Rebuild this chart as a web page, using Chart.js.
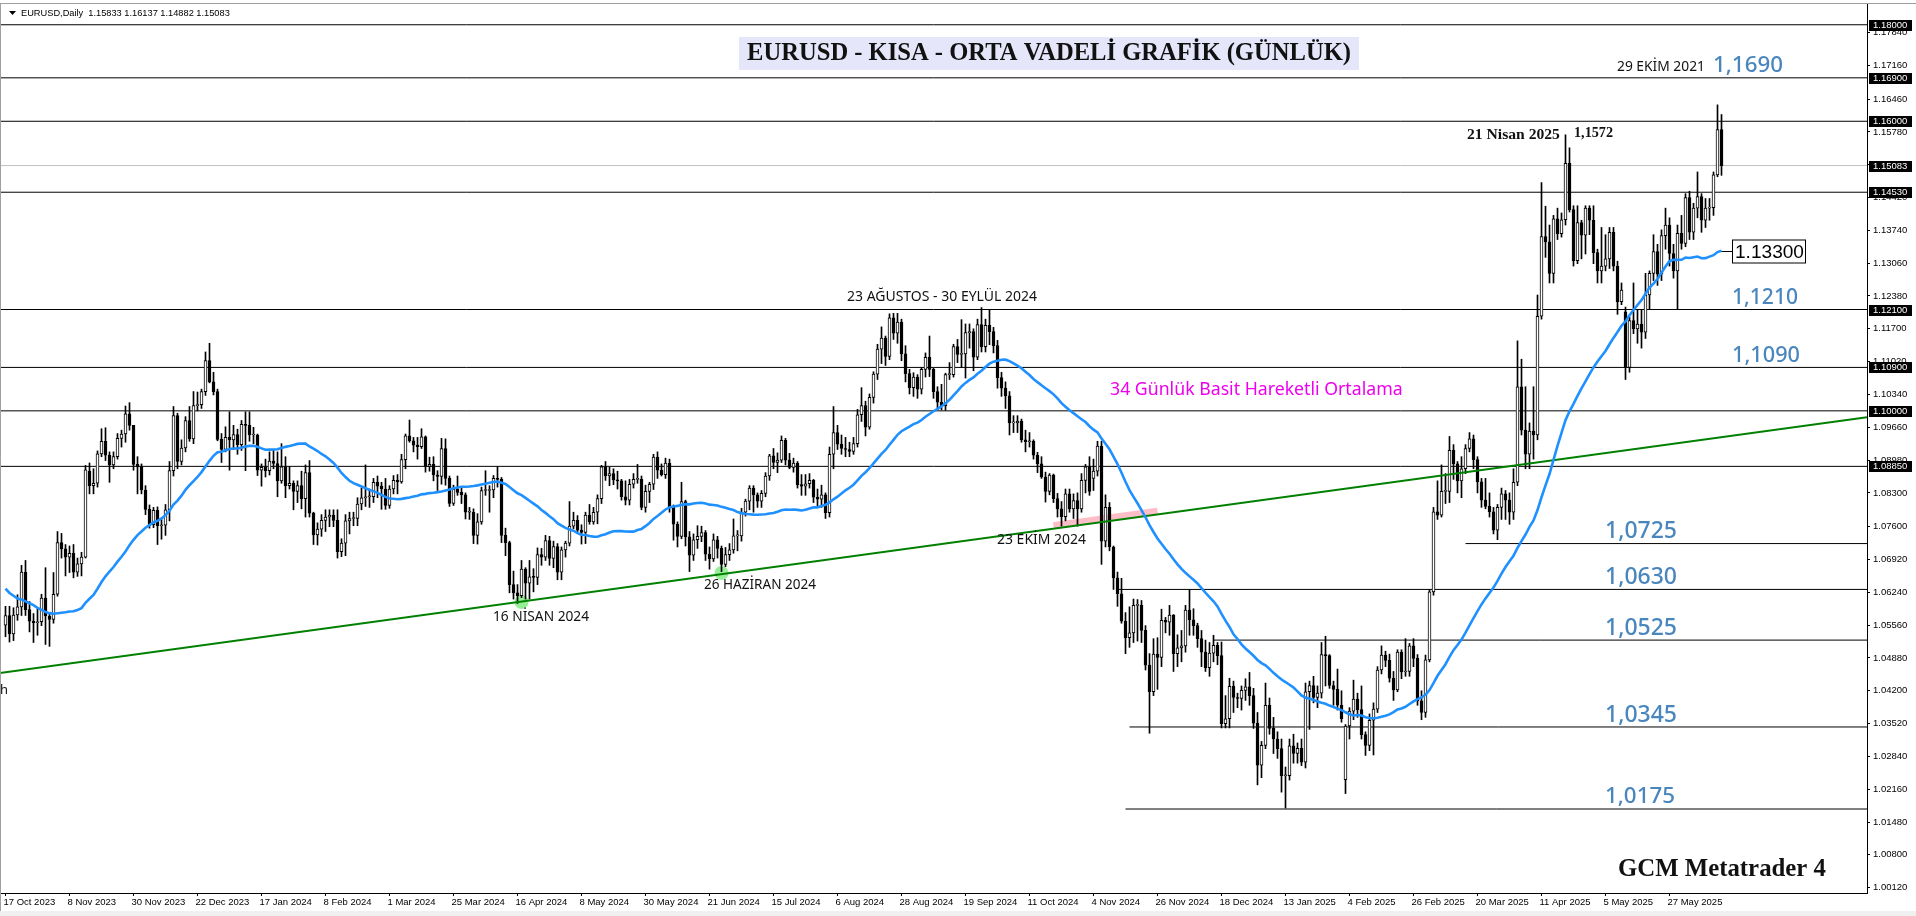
<!DOCTYPE html>
<html><head><meta charset="utf-8">
<style>html,body{margin:0;padding:0;background:#fff;overflow:hidden}canvas{display:block}</style>
<script src="https://cdn.jsdelivr.net/npm/chart.js@4.4.1/dist/chart.umd.min.js"></script>
</head><body>
<canvas id="c" width="1916" height="916"></canvas>
<script>
// ---------- DATA ----------
const headerText = 'EURUSD,Daily  1.15833 1.16137 1.14882 1.15083';
const titleText = 'EURUSD - KISA - ORTA VADELİ GRAFİK (GÜNLÜK)';
const dateLabels = ['17 Oct 2023','8 Nov 2023','30 Nov 2023','22 Dec 2023','17 Jan 2024','8 Feb 2024','1 Mar 2024','25 Mar 2024','16 Apr 2024','8 May 2024','30 May 2024','21 Jun 2024','15 Jul 2024','6 Aug 2024','28 Aug 2024','19 Sep 2024','11 Oct 2024','4 Nov 2024','26 Nov 2024','18 Dec 2024','13 Jan 2025','4 Feb 2025','26 Feb 2025','20 Mar 2025','11 Apr 2025','5 May 2025','27 May 2025'];
const barsPerLabel = 16;
const yTickValues = [1.00120,1.00800,1.01480,1.02160,1.02840,1.03520,1.04200,1.04880,1.05560,1.06240,1.06920,1.07600,1.08300,1.08980,1.09660,1.10340,1.11020,1.11700,1.12380,1.13060,1.13740,1.14420,1.15100,1.15780,1.16460,1.17160,1.17840];
// closes before the first visible bar (needed by the 34-day SMA)
const priorCloses = [1.0843,1.0775,1.0795,1.0720,1.0725,1.0697,1.0700,1.0750,1.0755,1.0730,1.0642,1.0660,1.0690,1.0680,1.0662,1.0660,1.0645,1.0590,1.0570,1.0500,1.0565,1.0573,1.0477,1.0470,1.0505,1.0548,1.0587,1.0565,1.0605,1.0620,1.0530,1.0510,1.0556];
const openP = [
1.0556,1.0576,1.0538,1.0577,1.0594,1.0666,1.0588,1.0564,1.0561,1.0563,
1.0612,1.0575,1.0568,1.0620,1.0727,1.0714,1.0697,1.0705,1.0666,1.0683,
1.0697,1.0875,1.0845,1.0850,1.0911,1.0937,1.0908,1.0888,1.0905,1.0943,
1.0952,1.0994,1.0970,1.0889,1.0884,1.0836,1.0796,1.0764,1.0794,1.0762,
1.0763,1.0795,1.0876,1.0990,1.0895,1.0923,1.0980,1.0942,1.1011,1.1013,
1.1040,1.1104,1.1060,1.1040,1.0941,1.0920,1.0945,1.0940,1.0951,1.0930,
1.0972,1.0970,1.0950,1.0950,1.0877,1.0883,1.0876,1.0896,1.0891,1.0855,
1.0884,1.0845,1.0850,1.0833,1.0845,1.0818,1.0872,1.0788,1.0743,1.0755,
1.0773,1.0780,1.0784,1.0773,1.0708,1.0726,1.0772,1.0777,1.0777,1.0807,
1.0820,1.0822,1.0822,1.0852,1.0844,1.0838,1.0804,1.0838,1.0856,1.0853,
1.0899,1.0948,1.0938,1.0929,1.0926,1.0946,1.0885,1.0889,1.0867,1.0864,
1.0922,1.0860,1.0808,1.0838,1.0831,1.0826,1.0790,1.0790,1.0742,1.0770,
1.0835,1.0835,1.0836,1.0860,1.0858,1.0742,1.0727,1.0640,1.0623,1.0617,
1.0672,1.0643,1.0656,1.0655,1.0702,1.0697,1.0731,1.0694,1.0719,1.0666,
1.0712,1.0726,1.0761,1.0773,1.0753,1.0748,1.0784,1.0770,1.0790,1.0818,
1.0884,1.0865,1.0870,1.0857,1.0855,1.0822,1.0815,1.0848,1.0858,1.0858,
1.0800,1.0833,1.0848,1.0904,1.0877,1.0868,1.0892,1.0800,1.0765,1.0740,
1.0812,1.0739,1.0701,1.0733,1.0740,1.0748,1.0703,1.0693,1.0733,1.0715,
1.0682,1.0702,1.0712,1.0741,1.0741,1.0790,1.0813,1.0840,1.0826,1.0813,
1.0829,1.0865,1.0907,1.0893,1.0898,1.0939,1.0898,1.0883,1.0892,1.0847,
1.0844,1.0849,1.0856,1.0821,1.0817,1.0826,1.0789,1.0910,1.0955,1.0931,
1.0922,1.0920,1.0916,1.0932,1.0992,1.1011,1.0966,1.1028,1.1076,1.1128,
1.1151,1.1113,1.1193,1.1161,1.1184,1.1118,1.1077,1.1048,1.1070,1.1045,
1.1086,1.1111,1.1086,1.1040,1.1018,1.1011,1.1075,1.1075,1.1133,1.1117,
1.1118,1.1162,1.1164,1.1111,1.1179,1.1133,1.1177,1.1164,1.1135,1.1069,
1.1047,1.1031,1.0975,1.0975,1.0979,1.0940,1.0936,1.0937,1.0908,1.0890,
1.0863,1.0833,1.0867,1.0818,1.0797,1.0781,1.0828,1.0797,1.0814,1.0797,
1.0856,1.0884,1.0860,1.0875,1.0927,1.0730,1.0800,1.0718,1.0654,1.0621,
1.0564,1.0530,1.0540,1.0597,1.0597,1.0545,1.0473,1.0418,1.0496,1.0489,
1.0566,1.0562,1.0577,1.0497,1.0509,1.0513,1.0587,1.0567,1.0555,1.0528,
1.0500,1.0468,1.0498,1.0514,1.0493,1.0352,1.0362,1.0429,1.0406,1.0404,
1.0421,1.0428,1.0410,1.0353,1.0266,1.0307,1.0390,1.0342,1.0320,1.0300,
1.0244,1.0244,1.0306,1.0290,1.0301,1.0272,1.0418,1.0431,1.0406,1.0415,
1.0495,1.0493,1.0431,1.0423,1.0390,1.0236,1.0347,1.0378,1.0403,1.0381,
1.0329,1.0307,1.0359,1.0382,1.0463,1.0494,1.0483,1.0446,1.0422,1.0500,
1.0459,1.0460,1.0513,1.0487,1.0399,1.0375,1.0484,1.0625,1.0791,1.0784,
1.0833,1.0833,1.0918,1.0890,1.0855,1.0880,1.0922,1.0942,1.0899,1.0853,
1.0815,1.0802,1.0791,1.0753,1.0800,1.0828,1.0815,1.0790,1.0852,1.1050,
1.0960,1.0910,1.0958,1.0950,1.1196,1.1361,1.1350,1.1285,1.1398,1.1367,
1.1396,1.1513,1.1417,1.1311,1.1390,1.1364,1.1420,1.1395,1.1328,1.1290,
1.1300,1.1315,1.1370,1.1300,1.1226,1.1205,1.1090,1.1187,1.1170,1.1180,
1.1163,1.1240,1.1285,1.1330,1.1283,1.1363,1.1385,1.1326,1.1290,1.1368,
1.1347,1.1442,1.1370,1.1420,1.1444,1.1395,1.1420,1.1421,1.1489,1.1583];
const highP = [
1.0595,1.0595,1.0592,1.0619,1.0680,1.0690,1.0605,1.0580,1.0590,1.0620,
1.0675,1.0580,1.0665,1.0750,1.0746,1.0723,1.0720,1.0723,1.0695,1.0707,
1.0887,1.0892,1.0880,1.0917,1.0963,1.0965,1.0915,1.0915,1.0953,1.0960,
1.1010,1.1017,1.0970,1.0905,1.0890,1.0845,1.0805,1.0800,1.0801,1.0775,
1.0806,1.0895,1.1009,1.0995,1.0940,1.0988,1.1009,1.1040,1.1039,1.1045,
1.1122,1.1140,1.1080,1.1045,1.0953,1.0967,1.0998,1.0970,1.0962,1.0980,
1.0998,1.0998,1.0966,1.0952,1.0890,1.0900,1.0915,1.0920,1.0915,1.0932,
1.0905,1.0885,1.0855,1.0855,1.0875,1.0888,1.0897,1.0790,1.0768,1.0785,
1.0795,1.0795,1.0795,1.0795,1.0735,1.0785,1.0790,1.0790,1.0820,1.0840,
1.0888,1.0838,1.0860,1.0865,1.0852,1.0860,1.0845,1.0866,1.0868,1.0910,
1.0952,1.0981,1.0945,1.0945,1.0963,1.0948,1.0904,1.0905,1.0876,1.0943,
1.0942,1.0865,1.0846,1.0865,1.0843,1.0830,1.0800,1.0797,1.0787,1.0842,
1.0876,1.0845,1.0866,1.0885,1.0862,1.0757,1.0730,1.0668,1.0640,1.0690,
1.0675,1.0690,1.0673,1.0716,1.0715,1.0742,1.0740,1.0730,1.0725,1.0718,
1.0730,1.0812,1.0790,1.0783,1.0764,1.0790,1.0806,1.0800,1.0826,1.0887,
1.0895,1.0883,1.0880,1.0875,1.0858,1.0855,1.0858,1.0870,1.0889,1.0865,
1.0846,1.0852,1.0910,1.0915,1.0890,1.0902,1.0900,1.0805,1.0770,1.0852,
1.0815,1.0750,1.0745,1.0762,1.0761,1.0752,1.0718,1.0745,1.0740,1.0720,
1.0717,1.0725,1.0776,1.0752,1.0798,1.0817,1.0845,1.0845,1.0830,1.0835,
1.0872,1.0910,1.0922,1.0913,1.0948,1.0943,1.0912,1.0902,1.0895,1.0868,
1.0868,1.0870,1.0858,1.0838,1.0846,1.0830,1.0925,1.1009,1.0970,1.0950,
1.0945,1.0935,1.0945,1.1003,1.1048,1.1020,1.1035,1.1081,1.1138,1.1174,
1.1155,1.1201,1.1202,1.1202,1.1190,1.1135,1.1086,1.1079,1.1075,1.1090,
1.1120,1.1155,1.1089,1.1050,1.1055,1.1078,1.1100,1.1138,1.1148,1.1189,
1.1180,1.1180,1.1170,1.1190,1.1214,1.1190,1.1209,1.1173,1.1146,1.1080,
1.1060,1.1040,1.0990,1.0990,1.0983,1.0960,1.0955,1.0940,1.0914,1.0905,
1.0873,1.0870,1.0869,1.0829,1.0812,1.0838,1.0838,1.0828,1.0830,1.0870,
1.0889,1.0905,1.0900,1.0937,1.0937,1.0826,1.0810,1.0720,1.0666,1.0653,
1.0582,1.0594,1.0610,1.0609,1.0607,1.0555,1.0497,1.0528,1.0530,1.0589,
1.0572,1.0597,1.0578,1.0536,1.0545,1.0597,1.0630,1.0590,1.0560,1.0545,
1.0525,1.0520,1.0535,1.0520,1.0521,1.0410,1.0446,1.0440,1.0415,1.0430,
1.0445,1.0458,1.0425,1.0375,1.0315,1.0436,1.0405,1.0365,1.0335,1.0320,
1.0262,1.0320,1.0330,1.0312,1.0320,1.0436,1.0440,1.0450,1.0430,1.0520,
1.0533,1.0495,1.0440,1.0465,1.0420,1.0350,1.0385,1.0442,1.0415,1.0430,
1.0335,1.0372,1.0395,1.0470,1.0513,1.0502,1.0496,1.0460,1.0505,1.0505,
1.0528,1.0518,1.0528,1.0495,1.0420,1.0494,1.0630,1.0800,1.0855,1.0888,
1.0870,1.0947,1.0930,1.0895,1.0905,1.0930,1.0955,1.0950,1.0905,1.0860,
1.0860,1.0830,1.0800,1.0806,1.0840,1.0835,1.0830,1.0880,1.1145,1.1107,
1.1050,1.0975,1.1050,1.1240,1.1473,1.1424,1.1385,1.1405,1.1420,1.1410,
1.1572,1.1545,1.1425,1.1425,1.1395,1.1425,1.1425,1.1425,1.1335,1.1380,
1.1365,1.1380,1.1380,1.1310,1.1265,1.1215,1.1195,1.1265,1.1210,1.1210,
1.1285,1.1290,1.1365,1.1345,1.1375,1.1420,1.1400,1.1345,1.1385,1.1405,
1.1450,1.1455,1.1430,1.1495,1.1450,1.1440,1.1440,1.1495,1.1634,1.1614];
const lowP = [
1.0532,1.0521,1.0524,1.0566,1.0576,1.0576,1.0542,1.0520,1.0535,1.0555,
1.0516,1.0512,1.0560,1.0616,1.0695,1.0658,1.0665,1.0654,1.0657,1.0658,
1.0695,1.0828,1.0828,1.0842,1.0905,1.0897,1.0852,1.0880,1.0900,1.0925,
1.0935,1.0960,1.0877,1.0828,1.0828,1.0785,1.0757,1.0758,1.0723,1.0734,
1.0742,1.0772,1.0865,1.0880,1.0888,1.0915,1.0937,1.0932,1.1000,1.1005,
1.1032,1.1058,1.1033,1.0938,1.0893,1.0915,1.0877,1.0920,1.0910,1.0918,
1.0876,1.0937,1.0932,1.0866,1.0844,1.0863,1.0867,1.0880,1.0822,1.0850,
1.0820,1.0838,1.0795,1.0810,1.0797,1.0780,1.0780,1.0723,1.0722,1.0740,
1.0750,1.0760,1.0760,1.0695,1.0698,1.0700,1.0745,1.0762,1.0762,1.0795,
1.0802,1.0800,1.0810,1.0820,1.0796,1.0796,1.0798,1.0828,1.0828,1.0850,
1.0880,1.0935,1.0915,1.0900,1.0922,1.0873,1.0875,1.0855,1.0835,1.0848,
1.0846,1.0802,1.0804,1.0825,1.0808,1.0776,1.0775,1.0725,1.0724,1.0765,
1.0825,1.0790,1.0820,1.0842,1.0727,1.0700,1.0623,1.0610,1.0601,1.0613,
1.0610,1.0610,1.0625,1.0640,1.0680,1.0690,1.0680,1.0675,1.0650,1.0650,
1.0697,1.0720,1.0756,1.0748,1.0724,1.0725,1.0765,1.0765,1.0766,1.0808,
1.0856,1.0845,1.0847,1.0838,1.0815,1.0805,1.0805,1.0840,1.0850,1.0795,
1.0790,1.0810,1.0837,1.0860,1.0865,1.0860,1.0790,1.0732,1.0718,1.0735,
1.0720,1.0667,1.0690,1.0715,1.0729,1.0690,1.0672,1.0688,1.0695,1.0667,
1.0677,1.0690,1.0705,1.0710,1.0730,1.0782,1.0795,1.0790,1.0800,1.0800,
1.0822,1.0856,1.0880,1.0872,1.0893,1.0888,1.0880,1.0873,1.0840,1.0825,
1.0825,1.0840,1.0810,1.0800,1.0800,1.0777,1.0780,1.0880,1.0920,1.0910,
1.0905,1.0905,1.0910,1.0925,1.0978,1.0948,1.0962,1.1016,1.1065,1.1098,
1.1094,1.1106,1.1148,1.1140,1.1104,1.1060,1.1035,1.1030,1.1026,1.1035,
1.1070,1.1071,1.1026,1.1002,1.1002,1.1001,1.1065,1.1070,1.1100,1.1090,
1.1068,1.1130,1.1083,1.1106,1.1122,1.1122,1.1137,1.1120,1.1047,1.1030,
1.1005,1.0950,1.0955,1.0955,1.0935,1.0915,1.0925,1.0900,1.0872,1.0860,
1.0811,1.0826,1.0810,1.0780,1.0761,1.0772,1.0790,1.0777,1.0761,1.0790,
1.0830,1.0825,1.0835,1.0865,1.0682,1.0718,1.0710,1.0630,1.0595,1.0560,
1.0497,1.0510,1.0520,1.0523,1.0520,1.0463,1.0332,1.0410,1.0423,1.0470,
1.0540,1.0535,1.0460,1.0470,1.0480,1.0500,1.0535,1.0535,1.0510,1.0470,
1.0460,1.0450,1.0480,1.0474,1.0343,1.0343,1.0343,1.0375,1.0385,1.0380,
1.0400,1.0390,1.0342,1.0225,1.0240,1.0300,1.0330,1.0290,1.0280,1.0210,
1.0177,1.0235,1.0270,1.0270,1.0265,1.0260,1.0340,1.0395,1.0385,1.0405,
1.0430,1.0425,1.0390,1.0380,1.0355,1.0207,1.0320,1.0360,1.0365,1.0320,
1.0286,1.0296,1.0287,1.0375,1.0455,1.0470,1.0438,1.0400,1.0418,1.0445,
1.0450,1.0450,1.0470,1.0390,1.0360,1.0365,1.0480,1.0618,1.0775,1.0780,
1.0808,1.0810,1.0858,1.0830,1.0820,1.0870,1.0915,1.0880,1.0830,1.0800,
1.0797,1.0780,1.0745,1.0733,1.0775,1.0775,1.0765,1.0775,1.0845,1.0950,
1.0880,1.0880,1.0900,1.0940,1.1190,1.1318,1.1265,1.1265,1.1355,1.1360,
1.1385,1.1412,1.1300,1.1305,1.1315,1.1325,1.1365,1.1305,1.1265,1.1265,
1.1290,1.1295,1.1290,1.1200,1.1220,1.1065,1.1080,1.1160,1.1140,1.1130,
1.1150,1.1210,1.1270,1.1260,1.1270,1.1335,1.1300,1.1275,1.1210,1.1335,
1.1340,1.1355,1.1355,1.1400,1.1370,1.1380,1.1395,1.1405,1.1485,1.1488];
const closeP = [
1.0576,1.0538,1.0577,1.0594,1.0666,1.0588,1.0564,1.0561,1.0563,1.0612,
1.0575,1.0568,1.0620,1.0727,1.0714,1.0697,1.0705,1.0666,1.0683,1.0697,
1.0878,1.0845,1.0850,1.0911,1.0937,1.0908,1.0888,1.0905,1.0943,1.0952,
1.0994,1.0970,1.0889,1.0884,1.0836,1.0796,1.0764,1.0794,1.0762,1.0763,
1.0795,1.0876,1.0990,1.0895,1.0923,1.0980,1.0942,1.1011,1.1013,1.1040,
1.1104,1.1060,1.1040,1.0941,1.0920,1.0945,1.0940,1.0951,1.0930,1.0972,
1.0970,1.0950,1.0950,1.0877,1.0883,1.0876,1.0896,1.0891,1.0855,1.0884,
1.0845,1.0850,1.0833,1.0845,1.0818,1.0872,1.0788,1.0743,1.0755,1.0773,
1.0780,1.0784,1.0773,1.0708,1.0726,1.0772,1.0777,1.0777,1.0807,1.0820,
1.0822,1.0822,1.0852,1.0844,1.0838,1.0804,1.0838,1.0856,1.0853,1.0899,
1.0948,1.0938,1.0929,1.0926,1.0946,1.0885,1.0889,1.0867,1.0864,1.0922,
1.0860,1.0808,1.0838,1.0831,1.0826,1.0790,1.0790,1.0742,1.0770,1.0835,
1.0835,1.0836,1.0860,1.0858,1.0742,1.0727,1.0640,1.0623,1.0617,1.0672,
1.0643,1.0656,1.0655,1.0702,1.0697,1.0731,1.0694,1.0719,1.0666,1.0712,
1.0726,1.0761,1.0773,1.0753,1.0748,1.0784,1.0770,1.0790,1.0818,1.0884,
1.0865,1.0870,1.0857,1.0855,1.0822,1.0815,1.0848,1.0858,1.0858,1.0800,
1.0833,1.0848,1.0904,1.0877,1.0868,1.0892,1.0800,1.0765,1.0740,1.0812,
1.0739,1.0701,1.0733,1.0740,1.0748,1.0703,1.0693,1.0733,1.0715,1.0682,
1.0702,1.0712,1.0741,1.0741,1.0790,1.0813,1.0840,1.0826,1.0813,1.0829,
1.0865,1.0907,1.0893,1.0898,1.0939,1.0898,1.0883,1.0892,1.0847,1.0844,
1.0849,1.0856,1.0821,1.0817,1.0826,1.0789,1.0910,1.0955,1.0931,1.0922,
1.0920,1.0916,1.0932,1.0992,1.1011,1.0966,1.1028,1.1076,1.1128,1.1151,
1.1113,1.1193,1.1161,1.1184,1.1118,1.1077,1.1048,1.1070,1.1045,1.1086,
1.1111,1.1086,1.1040,1.1018,1.1011,1.1075,1.1075,1.1133,1.1117,1.1118,
1.1162,1.1164,1.1111,1.1179,1.1133,1.1177,1.1164,1.1135,1.1069,1.1047,
1.1031,1.0975,1.0975,1.0979,1.0940,1.0936,1.0937,1.0908,1.0890,1.0863,
1.0833,1.0867,1.0818,1.0797,1.0781,1.0828,1.0797,1.0814,1.0797,1.0856,
1.0884,1.0833,1.0875,1.0927,1.0730,1.0800,1.0718,1.0654,1.0621,1.0564,
1.0530,1.0540,1.0597,1.0597,1.0545,1.0473,1.0418,1.0496,1.0489,1.0566,
1.0562,1.0577,1.0497,1.0509,1.0513,1.0587,1.0567,1.0555,1.0528,1.0500,
1.0468,1.0498,1.0514,1.0493,1.0352,1.0362,1.0429,1.0406,1.0404,1.0421,
1.0428,1.0410,1.0353,1.0266,1.0307,1.0390,1.0342,1.0320,1.0300,1.0244,
1.0244,1.0306,1.0290,1.0301,1.0272,1.0418,1.0431,1.0406,1.0415,1.0495,
1.0493,1.0431,1.0423,1.0390,1.0362,1.0347,1.0378,1.0403,1.0381,1.0329,
1.0307,1.0359,1.0382,1.0463,1.0494,1.0483,1.0446,1.0422,1.0500,1.0459,
1.0460,1.0513,1.0487,1.0399,1.0375,1.0484,1.0625,1.0791,1.0784,1.0833,
1.0833,1.0918,1.0890,1.0855,1.0880,1.0922,1.0942,1.0899,1.0853,1.0815,
1.0802,1.0791,1.0753,1.0800,1.0828,1.0815,1.0790,1.0852,1.1050,1.0960,
1.0910,1.0958,1.0950,1.1196,1.1361,1.1350,1.1285,1.1398,1.1367,1.1396,
1.1513,1.1417,1.1311,1.1390,1.1364,1.1420,1.1395,1.1328,1.1290,1.1300,
1.1315,1.1370,1.1300,1.1226,1.1250,1.1090,1.1187,1.1170,1.1180,1.1163,
1.1240,1.1285,1.1330,1.1283,1.1363,1.1385,1.1326,1.1290,1.1368,1.1347,
1.1442,1.1370,1.1420,1.1444,1.1395,1.1420,1.1421,1.1489,1.1583,1.1508];
const maPeriod = 34;
const fullLevels = [1.1800,1.1690,1.1600,1.1453,1.1210,1.1090,1.1000,1.0885];
const currentPrice = 1.15083;
const partialLevels = [1.0725,1.0630,1.0525,1.0345,1.0175];
const partialStartBar = [365,278,302,281,280];
const axisBoxLevels = [1.18000,1.16900,1.16000,1.15083,1.14530,1.12100,1.10900,1.10000,1.08850];
const trendBars = [-1.375,465.375];
const trendPrices = [1.0457,1.0987];
const zoneBars = [262,288];
const zonePrices = [1.0762,1.0792];
const touchBars = [129,179];
const touchPrices = [1.0604,1.0664];
const maTagText = '1.13300';
const levelTexts = ['1,1690','1,1210','1,1090','1,0725','1,0630','1,0525','1,0345','1,0175'];
const levelTextValues = [1.1690,1.1210,1.1090,1.0725,1.0630,1.0525,1.0345,1.0175];

// ---------- derived ----------
const N = closeP.length;
const allCloses = priorCloses.concat(closeP);
const sma = [];
for (let i = 0; i < N; i++) {
  let s = 0; const end = i + priorCloses.length;
  for (let k = end - maPeriod + 1; k <= end; k++) s += allCloses[k];
  sma.push({x: i, y: s / maPeriod});
}
const wickData = openP.map((o, i) => ({x: i, y: [lowP[i], highP[i]]}));
const bodyData = openP.map((o, i) => ({x: i, y: [Math.min(o, closeP[i]), Math.max(o, closeP[i])]}));
const xMin = -1.375, xMax = 465.375, yMin = 1.0001, yMax = 1.1843;

const levelSets = fullLevels.map(v => ({
  type: 'line', data: [{x: xMin, y: v}, {x: xMax, y: v}], borderColor: '#000', borderWidth: 1,
  pointRadius: 0, order: 9
}));
const partialSets = partialLevels.map((v, k) => ({
  type: 'line', data: [{x: partialStartBar[k], y: v}, {x: xMax, y: v}], borderColor: '#000', borderWidth: 1,
  pointRadius: 0, order: 9
}));

function fitText(c, text, x, y, w, family, weight, color, align) {
  c.font = weight + ' 100px ' + family;
  const m = c.measureText(text).width;
  const size = 100 * w / m;
  c.font = weight + ' ' + size.toFixed(2) + 'px ' + family;
  c.fillStyle = color; c.textAlign = align || 'left'; c.textBaseline = 'middle';
  c.fillText(text, x, y);
}

const deco = {
  id: 'deco',
  beforeDraw(chart) {
    const c = chart.ctx; c.save();
    c.fillStyle = '#fff'; c.fillRect(0, 0, chart.width, chart.height);
    c.restore();
  },
  afterDraw(chart) {
    const c = chart.ctx, ys = chart.scales.y;
    c.save();
    // frame
    c.fillStyle = '#f0f0f0'; c.fillRect(0, 911, 1916, 5);
    c.strokeStyle = '#a0a0a0'; c.lineWidth = 1;
    c.beginPath(); c.moveTo(0, 3.5); c.lineTo(1916, 3.5); c.stroke();
    c.beginPath(); c.moveTo(0.5, 3.5); c.lineTo(0.5, 911); c.stroke();
    // header
    c.fillStyle = '#000';
    c.beginPath(); c.moveTo(9, 11); c.lineTo(16, 11); c.lineTo(12.5, 15); c.closePath(); c.fill();
    fitText(c, headerText, 21, 13, 209, '"Liberation Sans"', 'normal', '#000');
    // title
    c.fillStyle = '#e6e6fa'; c.fillRect(739, 37, 620, 33);
    fitText(c, titleText, 1049, 54, 604, '"Liberation Serif"', 'bold', '#111', 'center');
    // annotations
    fitText(c, '23 AĞUSTOS - 30 EYLÜL 2024', 847, 297, 190, '"Noto Sans"', 'normal', '#111');
    fitText(c, '16 NİSAN 2024', 493, 617, 96, '"Noto Sans"', 'normal', '#111');
    fitText(c, '26 HAZİRAN 2024', 704, 585, 112, '"Noto Sans"', 'normal', '#111');
    fitText(c, '23 EKİM 2024', 997, 540, 89, '"Noto Sans"', 'normal', '#111');
    fitText(c, '21 Nisan 2025', 1467, 135, 93, '"Liberation Serif"', 'bold', '#111');
    fitText(c, '1,1572', 1574, 133, 39, '"Liberation Serif"', 'bold', '#111');
    fitText(c, '29 EKİM 2021', 1617, 67, 88, '"Noto Sans"', 'normal', '#111');
    fitText(c, '34 Günlük Basit Hareketli Ortalama', 1110, 390, 293, '"Noto Sans"', 'normal', '#ee00ee');
    fitText(c, 'GCM Metatrader 4', 1618, 870, 208, '"Liberation Serif"', 'bold', '#111');
    fitText(c, 'h', 0, 690, 8, '"Noto Sans"', 'normal', '#111');
    // blue level numbers
    const lx = [1713, 1732, 1732, 1605, 1605, 1605, 1605, 1605];
    const lw = [70, 66, 68, 72, 72, 72, 72, 70];
    levelTexts.forEach((t, k) => {
      fitText(c, t, lx[k], ys.getPixelForValue(levelTextValues[k]) - 12, lw[k], '"Noto Sans"', '500', '#4a86be');
    });
    // MA tag
    const maMeta = chart.getDatasetMeta(chart.data.datasets.findIndex(d => d.label === 'ma'));
    const last = maMeta.data[maMeta.data.length - 1];
    const ty = Math.round(last.y) + 0.5;
    c.strokeStyle = '#000'; c.lineWidth = 1;
    c.beginPath(); c.moveTo(last.x, ty); c.lineTo(1732, ty); c.stroke();
    c.fillStyle = '#fff'; c.fillRect(1732, ty - 12, 74, 24);
    c.strokeRect(1732.5, ty - 11.5, 73, 23);
    fitText(c, maTagText, 1735, ty + 1, 69, '"Liberation Sans"', 'normal', '#000');
    // axis boxes
    axisBoxLevels.forEach(v => {
      const y = Math.round(ys.getPixelForValue(v));
      c.fillStyle = '#000'; c.fillRect(1869, y - 5, 43, 11);
      c.fillStyle = '#fff'; c.font = '9.5px "Liberation Sans"'; c.textAlign = 'left'; c.textBaseline = 'middle';
      c.fillText(v.toFixed(5), 1873, y + 0.5);
    });
    c.restore();
  }
};

new Chart(document.getElementById('c'), {
  type: 'bar',
  data: {
    datasets: [
      {type: 'line', label: 'ma', data: sma, borderColor: '#1e90ff', borderWidth: 2.6, pointRadius: 0, tension: 0, order: 0},
      {type: 'line', label: 'trend', data: trendBars.map((b, k) => ({x: b, y: trendPrices[k]})), borderColor: '#008000', borderWidth: 2, pointRadius: 0, order: 1},
      {type: 'bar', label: 'bodies', data: bodyData, grouped: false, barThickness: 3, minBarLength: 1,
        backgroundColor: c => (closeP[c.dataIndex] >= openP[c.dataIndex] ? '#ffffff' : '#000000'),
        borderColor: '#000', borderWidth: 1, borderSkipped: false, order: 2},
      {type: 'bar', label: 'wicks', data: wickData, grouped: false, barThickness: 1, backgroundColor: '#000', borderWidth: 0, order: 3},
      {type: 'line', label: 'touch', data: touchBars.map((b, k) => ({x: b, y: touchPrices[k]})), showLine: false,
        pointRadius: 7, pointBackgroundColor: 'rgba(144,238,144,0.95)', pointBorderWidth: 0, order: 4},
      {type: 'line', label: 'zone', data: zoneBars.map((b, k) => ({x: b, y: zonePrices[k]})), borderColor: 'rgba(255,182,193,0.9)', borderWidth: 7, pointRadius: 0, borderCapStyle: 'butt', order: 5},
      {type: 'line', label: 'price', data: [{x: xMin, y: currentPrice}, {x: xMax, y: currentPrice}], borderColor: '#c0c0c0', borderWidth: 1, pointRadius: 0, order: 8},
      ...levelSets, ...partialSets
    ]
  },
  options: {
    responsive: false, animation: false, devicePixelRatio: 1,
    layout: {autoPadding: false, padding: {top: 4, left: 0, right: 0, bottom: 0}},
    plugins: {legend: {display: false}, tooltip: {enabled: false}},
    scales: {
      x: {
        type: 'linear', min: xMin, max: xMax, offset: false,
        afterBuildTicks: s => { s.ticks = dateLabels.map((_, k) => ({value: k * barsPerLabel})); },
        ticks: {autoSkip: false, maxRotation: 0, minRotation: 0, align: 'start', padding: 1, labelOffset: -2, color: '#000',
          font: {family: 'Liberation Sans', size: 9.5}, callback: (v, i) => dateLabels[i]},
        grid: {display: true, drawOnChartArea: false, drawTicks: true, tickLength: 3, color: '#000', offset: false},
        border: {display: true, color: '#000', width: 1},
        afterFit: s => { s.height = 23; s.paddingLeft = 0; s.paddingRight = 0; s.paddingTop = 0; s.paddingBottom = 0; }
      },
      y: {
        position: 'right', min: yMin, max: yMax,
        afterBuildTicks: s => { s.ticks = yTickValues.map(v => ({value: v})); },
        ticks: {autoSkip: false, padding: 3, color: '#000', font: {family: 'Liberation Sans', size: 9.5}, callback: v => v.toFixed(5)},
        grid: {display: true, drawOnChartArea: false, drawTicks: true, tickLength: 3, color: '#000'},
        border: {display: true, color: '#000', width: 1},
        afterFit: s => { s.width = 49; s.paddingTop = 0; s.paddingBottom = 0; s.paddingLeft = 0; s.paddingRight = 0; }
      }
    }
  },
  plugins: [deco]
});
</script>
</body></html>
